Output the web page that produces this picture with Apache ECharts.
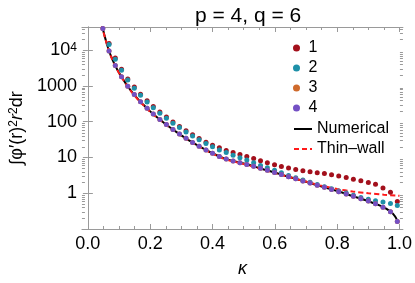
<!DOCTYPE html>
<html>
<head>
<meta charset="utf-8">
<script src="https://cdn.jsdelivr.net/npm/echarts@6/dist/echarts.min.js"></script>
<style>
html,body{margin:0;padding:0;background:#fff;}
#chart{width:415px;height:283px;}
</style>
</head>
<body>
<div id="chart"></div>
<script>
// ---- data ----
const kappaDots = [0.048,0.068,0.088,0.108,0.128,0.149,0.169,0.190,0.210,0.231,0.252,0.273,0.294,0.315,0.336,0.357,0.379,0.400,0.422,0.444,0.466,0.488,0.510,0.532,0.554,0.576,0.599,0.621,0.644,0.667,0.690,0.713,0.736,0.759,0.782,0.805,0.829,0.852,0.876,0.900,0.923,0.947,0.971,0.993];
const series1 = [66100,15500,6030,2950,1580,933,589,385,266,186,135,97.7,73.5,55.6,43.2,33.9,26.9,22.1,18.6,15.8,13.8,12.2,10.7,9.33,8.13,7.16,6.31,5.62,5.07,4.62,4.27,3.98,3.76,3.55,3.31,3.02,2.75,2.48,2.24,2.0,1.78,1.41,1.07,0.589];
const series2 = [61700,14500,5620,2750,1480,871,550,359,248,174,126,91.2,68.5,51.9,39.8,31.3,24.5,20.0,16.2,13.7,11.6,9.91,8.45,7.16,5.97,5.13,4.40,3.73,3.16,2.71,2.34,2.02,1.75,1.53,1.34,1.16,1.01,0.88,0.76,0.676,0.617,0.569,0.513,0.457];
const series3 = [40700,9550,3720,1820,977,575,363,237,164,115,83.2,60.3,45.3,34.3,26.3,20.7,16.2,13.2,10.7,9.08,8.04,7.18,6.41,5.69,4.97,4.37,3.83,3.33,2.88,2.53,2.21,1.93,1.67,1.46,1.28,1.11,0.953,0.82,0.703,0.603,0.505,0.409,0.303,0.162];
const series4 = [40700,9550,3720,1820,977,575,363,237,164,115,83.2,60.3,45.3,34.3,26.3,20.7,16.2,13.2,10.7,9.08,8.04,7.18,6.41,5.69,4.97,4.37,3.83,3.33,2.88,2.53,2.21,1.93,1.67,1.46,1.28,1.11,0.953,0.82,0.703,0.603,0.505,0.409,0.303,0.162];
const kappaCurve = [0.045,0.05,0.055,0.06,0.067,0.075,0.085,0.095,0.105,0.115,0.127,0.14,0.16,0.18,0.20,0.22,0.24,0.27,0.30,0.33,0.36,0.39,0.43,0.45,0.50,0.53,0.56,0.60,0.64,0.70,0.745,0.80,0.85,0.90,0.93,0.95,0.97,0.98,0.99,0.993];
const numerical = [53700,33900,22900,16200,10000,6610,4170,2820,2000,1450,1000,708,437,288,195,138,100,63.1,41.7,28.2,20.0,14.5,10.0,8.7,6.76,5.75,4.79,3.80,2.95,2.09,1.58,1.15,0.83,0.60,0.48,0.40,0.31,0.26,0.195,0.162];
const kappaThin = [0.045,0.05,0.055,0.06,0.067,0.075,0.085,0.095,0.105,0.115,0.127,0.14,0.16,0.18,0.20,0.22,0.24,0.27,0.30,0.33,0.36,0.39,0.43,0.45,0.50,0.53,0.56,0.60,0.64,0.70,0.745,0.80,0.85,0.90,0.95,1.0];
const thinWall = [52100,32900,22200,15700,9700,6410,4040,2740,1940,1410,970,687,424,279,189,134,97,61.2,40.4,27.4,19.4,14.1,9.7,8.45,6.56,5.58,4.65,3.70,2.92,2.12,1.66,1.32,1.12,1.00,0.91,0.85];
const seriesNames = ['1','2','3','4'];
const lineNames = ['Numerical','Thin–wall'];
const xMajorTicks = [0,0.2,0.4,0.6,0.8,1.0];
const xMinorTicks = [0.05,0.1,0.15,0.25,0.3,0.35,0.45,0.5,0.55,0.65,0.7,0.75,0.85,0.9,0.95];
const yMinorTicks = [0.2,0.3,0.4,0.5,0.6,0.7,0.8,0.9,2,3,4,5,6,7,8,9,20,30,40,50,60,70,80,90,200,300,400,500,600,700,800,900,2000,3000,4000,5000,6000,7000,8000,9000,20000,30000,40000];
const titleText = 'p = 4, q = 6';

// ---- chart ----
const XMIN = -0.019, XMAX = 1.011, YMIN = 0.1, YMAX = 44700;
const FRAME = '#9a9a9a';
const FONT = 'Liberation Sans';
const dotColors = ['#a3101c','#1e90a8','#cf6a2c','#7450c4'];

const chart = echarts.init(document.getElementById('chart'), null, {renderer:'canvas'});
const zip = (xs, ys) => xs.map((x, i) => [x, ys[i]]);
const dotSeries = [series1, series2, series3, series4].map((vals, i) => ({
  name: seriesNames[i], type: 'scatter', xAxisIndex: 0, yAxisIndex: 0,
  data: zip(kappaDots, vals), symbol: 'circle', symbolSize: 5,
  itemStyle: {color: dotColors[i], opacity: 1}, z: 10 + i, clip: true
}));

function xAxisDef(pos, major, labels) {
  return {
    type: 'value', position: pos, min: XMIN, max: XMAX,
    axisLine: {show: major, lineStyle: {color: FRAME, width: 1}},
    axisTick: {show: true, inside: true, length: major ? 5 : 3,
      customValues: major ? xMajorTicks : xMinorTicks, lineStyle: {color: FRAME, width: 1}},
    axisLabel: labels ? {show: true, customValues: xMajorTicks, formatter: v => v.toFixed(1),
      fontSize: 18, fontFamily: FONT, color: '#000', margin: 6} : {show: false},
    splitLine: {show: false}
  };
}
function yAxisDef(pos, labels) {
  return {
    type: 'log', logBase: 10, position: pos, min: YMIN, max: YMAX,
    axisLine: {show: true, lineStyle: {color: FRAME, width: 1}},
    axisTick: {show: true, inside: true, length: 5, lineStyle: {color: FRAME, width: 1}},
    axisLabel: labels ? {show: true, fontSize: 18, fontFamily: FONT, color: '#000', margin: 5,
      formatter: v => {
        const e = Math.round(Math.log10(v));
        if (Math.abs(Math.log10(v) - e) > 1e-6) return '';
        if (e < 0) return '';
        if (e >= 4) return '10{sup|' + e + '}';
        return String(Math.pow(10, e));
      },
      rich: {sup: {fontSize: 12, fontFamily: FONT, color: '#000', verticalAlign: 'top', lineHeight: 12}}
    } : {show: false},
    splitLine: {show: false}
  };
}

const xAxes = [xAxisDef('bottom', true, true), xAxisDef('bottom', false, false), xAxisDef('top', true, false), xAxisDef('top', false, false)];
xAxes[0].name = 'κ';
xAxes[0].nameLocation = 'middle';
xAxes[0].nameGap = 31;
xAxes[0].nameTextStyle = {fontSize: 18, fontFamily: FONT, fontStyle: 'italic', color: '#000'};

const yAxes = [yAxisDef('left', true), yAxisDef('right', false)];
yAxes[0].name = '∫φ′(r){sup|2}{it|r}{sup|2}dr';
yAxes[0].nameLocation = 'middle';
yAxes[0].nameRotate = 90;
yAxes[0].nameGap = 50;
yAxes[0].nameTextStyle = {fontSize: 18, fontFamily: FONT, color: '#000',
  rich: {sup: {fontSize: 12, fontFamily: FONT, color: '#000', verticalAlign: 'top', lineHeight: 12},
         it: {fontSize: 18, fontFamily: FONT, fontStyle: 'italic', color: '#000'}}};

const minorYTicks = {
  type: 'custom', xAxisIndex: 0, yAxisIndex: 0, silent: true, z: 1,
  data: yMinorTicks.map(v => [XMIN, v]),
  renderItem: (params, api) => {
    const v = api.value(1);
    const pL = api.coord([XMIN, v]);
    const pR = api.coord([XMAX, v]);
    const y = Math.round(pL[1]) + 0.5;
    return {type: 'group', children: [
      {type: 'line', shape: {x1: pL[0], y1: y, x2: pL[0] + 3, y2: y}, style: {stroke: FRAME, lineWidth: 1}},
      {type: 'line', shape: {x1: pR[0], y1: y, x2: pR[0] - 3, y2: y}, style: {stroke: FRAME, lineWidth: 1}}
    ]};
  },
  clip: false
};

const option = {
  animation: false,
  backgroundColor: '#fff',
  title: {text: titleText, left: 190, top: 1,
    textStyle: {fontSize: 21, fontWeight: 'normal', fontFamily: FONT, color: '#000'}},
  grid: {left: 81, right: 11, top: 27, bottom: 54, containLabel: false},
  legend: [
    {data: seriesNames, orient: 'vertical', left: 293, top: 40, padding: 0, itemWidth: 14, itemHeight: 7,
     itemGap: 4, icon: 'circle',
     textStyle: {fontSize: 16, fontFamily: FONT, color: '#000', lineHeight: 16}},
    {data: lineNames, orient: 'vertical', left: 293, top: 121, padding: 0, itemWidth: 18, itemHeight: 7,
     itemGap: 4, itemStyle: {color: 'rgba(0,0,0,0)', borderWidth: 0, opacity: 0},
     textStyle: {fontSize: 16, fontFamily: FONT, color: '#000', lineHeight: 16}}
  ],
  xAxis: xAxes,
  yAxis: yAxes,
  series: [
    {name: lineNames[0], type: 'line', xAxisIndex: 0, yAxisIndex: 0, data: zip(kappaCurve, numerical),
     smooth: 0.3, showSymbol: false, symbol: 'none', lineStyle: {color: '#000', width: 2}, itemStyle: {color: '#000'}, z: 3, clip: true},
    {name: lineNames[1], type: 'line', xAxisIndex: 0, yAxisIndex: 0, data: zip(kappaThin, thinWall),
     smooth: 0.3, showSymbol: false, symbol: 'none', lineStyle: {color: '#ff1a1a', width: 2, type: [5, 3]}, itemStyle: {color: '#ff1a1a'}, z: 4, clip: true},
    ...dotSeries,
    minorYTicks
  ]
};
chart.setOption(option);
</script>
</body>
</html>
